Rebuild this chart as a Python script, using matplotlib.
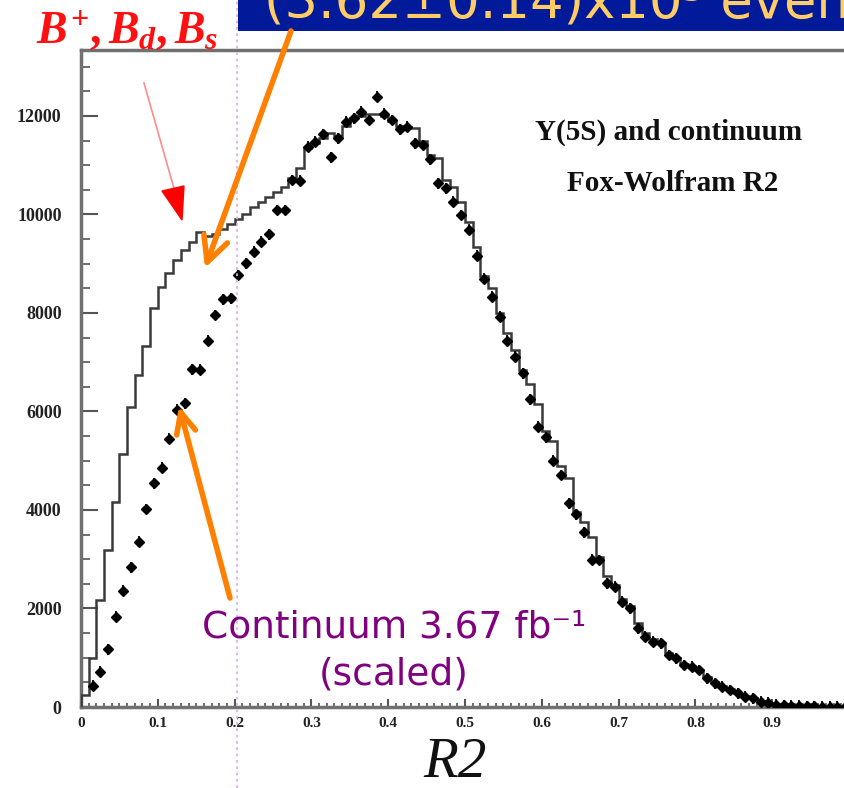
import matplotlib
matplotlib.use('Agg')
import matplotlib.pyplot as plt
import numpy as np
from matplotlib.patches import Rectangle, Polygon, FancyArrowPatch
from matplotlib.lines import Line2D
from matplotlib.ticker import MultipleLocator

# ---------------- data ----------------
bin_edges = np.round(np.arange(0, 1.0001, 0.01), 2)

# Y(5S) data histogram (bins of 0.01 from 0 to 1)
hist_vals = [
    250, 1000, 2170, 3190, 4170, 5140, 6100, 6740, 7320, 8095,
    8530, 8810, 9080, 9280, 9450, 9650, 9560, 9600, 9700, 9800,
    9900, 10000, 10150, 10250, 10350, 10450, 10550, 10750, 10950, 11350,
    11450, 11550, 11650, 11600, 11800, 11950, 12000, 12050, 12050, 12000,
    11900, 11800, 11780, 11750, 11500, 11200, 11150, 10700, 10550, 10250,
    9850, 9350, 8750, 8500, 8000, 7600, 7250, 6850, 6550, 6150,
    5600, 5400, 4900, 4650, 3950, 3760, 3450, 3050, 2650, 2480,
    2200, 2050, 1700, 1500, 1380, 1300, 1100, 1000, 880, 830,
    760, 600, 500, 430, 360, 290, 220, 180, 120, 90,
    55, 40, 30, 22, 16, 12, 8, 5, 3, 2,
]

# Continuum (scaled) points, bins 1..99 (centres 0.015 ... 0.995)
cont_vals = [
    430, 720, 1170, 1830, 2360, 2840, 3360, 4020, 4540,
    4860, 5450, 6040, 6170, 6860, 6850, 7440, 7960, 8280, 8300,
    8770, 9010, 9245, 9450, 9600, 10090, 10090, 10700, 10690, 11380,
    11480, 11630, 11160, 11550, 11885, 11950, 12090, 11920, 12390, 12050,
    11920, 11730, 11780, 11450, 11410, 11120, 10630, 10530, 10260, 9990,
    9690, 9160, 8700, 8330, 7925, 7440, 7110, 6775, 6250, 5690,
    5476, 5000, 4711, 4136, 3910, 3550, 2990, 2985, 2511, 2443,
    2138, 2003, 1597, 1428, 1326, 1293, 1056, 988, 853, 818,
    751, 582, 481, 413, 345, 278, 210, 176, 108, 88,
    50, 40, 30, 25, 20, 15, 10, 8, 5, 3,
]
cont_err = 110
bin_half = 0.005

x_tick_vals = [0, 0.1, 0.2, 0.3, 0.4, 0.5, 0.6, 0.7, 0.8, 0.9]
x_tick_labels = ['0', '0.1', '0.2', '0.3', '0.4', '0.5', '0.6', '0.7', '0.8', '0.9']
y_tick_vals = [0, 2000, 4000, 6000, 8000, 10000, 12000]
y_tick_labels = ['0', '2000', '4000', '6000', '8000', '10000', '12000']

centres = (bin_edges[:-1] + bin_edges[1:]) / 2
cont_x = centres[1:]

# ---------------- figure ----------------
plt.rcParams['font.family'] = ['Liberation Serif', 'DejaVu Serif']
plt.rcParams['mathtext.fontset'] = 'custom'
plt.rcParams['mathtext.it'] = 'Liberation Serif:italic:bold'
plt.rcParams['mathtext.rm'] = 'Liberation Serif:bold'
plt.rcParams['mathtext.bf'] = 'Liberation Serif:bold'

W, H = 845, 788
fig = plt.figure(figsize=(W / 100, H / 100), dpi=100)
fig.patch.set_facecolor('white')


def P(x, y):
    return (x / W, 1 - y / H)


ax = fig.add_axes([81 / W, 81 / H, 768 / W, 657 / H])
ax.stairs(hist_vals, bin_edges, color='#3a3a3a', lw=1.8, zorder=3)
ax.errorbar(cont_x, cont_vals, yerr=cont_err, xerr=bin_half, fmt='D', ms=5,
            color='black', ecolor='black', elinewidth=1.3, capsize=0, zorder=4)

ax.set_xlim(0, 1.0)
ax.set_ylim(0, 13340)
ax.set_xticks(x_tick_vals)
ax.set_xticklabels(x_tick_labels)
ax.set_yticks(y_tick_vals)
ax.set_yticklabels(y_tick_labels)
ax.xaxis.set_minor_locator(MultipleLocator(0.01))
ax.yaxis.set_minor_locator(MultipleLocator(500))

ax.tick_params(axis='x', which='major', direction='in', length=6, width=1.5,
               color='#555555', labelsize=11, pad=7)
ax.tick_params(axis='x', which='minor', direction='in', length=3, width=1.2,
               color='#555555')
ax.tick_params(axis='y', which='major', direction='in', length=12, width=1.5,
               color='#555555', labelsize=13, pad=14)
ax.tick_params(axis='y', which='minor', direction='in', length=6.5, width=1.2,
               color='#555555')
for lab in ax.get_xticklabels() + ax.get_yticklabels():
    lab.set_fontweight('bold')
    lab.set_color('#222222')

for side in ['left', 'bottom', 'top', 'right']:
    ax.spines[side].set_color('#707070')
    ax.spines[side].set_linewidth(2.5)

# axis label
fig.text(*P(455, 777), 'R2', ha='center', va='baseline', fontsize=41,
         style='italic', family='Liberation Serif', color='#111111')

# titles inside the plot
fig.text(*P(669, 140), 'Y(5S) and continuum', ha='center', va='baseline',
         fontsize=21, fontweight='bold', family='Liberation Serif', color='#111111')
fig.text(*P(673, 191), 'Fox-Wolfram R2', ha='center', va='baseline',
         fontsize=21, fontweight='bold', family='Liberation Serif', color='#111111')

# pink dotted vertical line
fig.add_artist(Line2D([237 / W, 237 / W], [0, 1], transform=fig.transFigure,
                      color='#e0b0e6', lw=1.3, ls=(0, (1.5, 2.0)), zorder=5))

# blue box with (clipped) yellow text
fig.add_artist(Rectangle(P(238, 31), 1 - 238 / W, 31 / H, transform=fig.transFigure,
                         facecolor='#001a9a', edgecolor='none', zorder=6))
fig.text(*P(264, 18), '(3.62±0.14)x10⁵ events/', ha='left', va='baseline',
         fontsize=38, color='#ffcc66', family=['DejaVu Sans'], zorder=7)

# red label B+, Bd, Bs
fig.text(*P(36, 43), r'$B^{+}, B_{d}, B_{s}$', ha='left', va='baseline',
         fontsize=33, color='#ff1010', zorder=8)

# red thin arrow
fig.add_artist(Line2D([144 / W, 175 / W], [1 - 83 / H, 1 - 192 / H],
                      transform=fig.transFigure, color='#ff8c8c', lw=1.2, zorder=8))
fig.add_artist(Polygon([P(162, 191), P(184, 186), P(182, 220)], closed=True,
                       transform=fig.transFigure, facecolor='#ff0000',
                       edgecolor='#ff0000', zorder=8))

# orange arrows
fig.add_artist(FancyArrowPatch(P(291, 31), P(205, 268), transform=fig.transFigure,
                               arrowstyle='->,head_length=0.9,head_width=0.45',
                               mutation_scale=20, lw=4, color='#ff8000', zorder=9,
                               shrinkA=0, shrinkB=0))
fig.add_artist(FancyArrowPatch(P(230, 598), P(179, 406), transform=fig.transFigure,
                               arrowstyle='->,head_length=0.75,head_width=0.35',
                               mutation_scale=20, lw=4, color='#ff8000', zorder=9,
                               shrinkA=0, shrinkB=0))

# purple continuum label
fig.text(*P(394, 637), 'Continuum 3.67 fb⁻¹', ha='center', va='baseline',
         fontsize=27, color='#800080', family=['DejaVu Sans'], zorder=9)
fig.text(*P(394, 684), '(scaled)', ha='center', va='baseline',
         fontsize=27, color='#800080', family=['DejaVu Sans'], zorder=9)

fig.savefig('out.png', dpi=100, facecolor='white')
